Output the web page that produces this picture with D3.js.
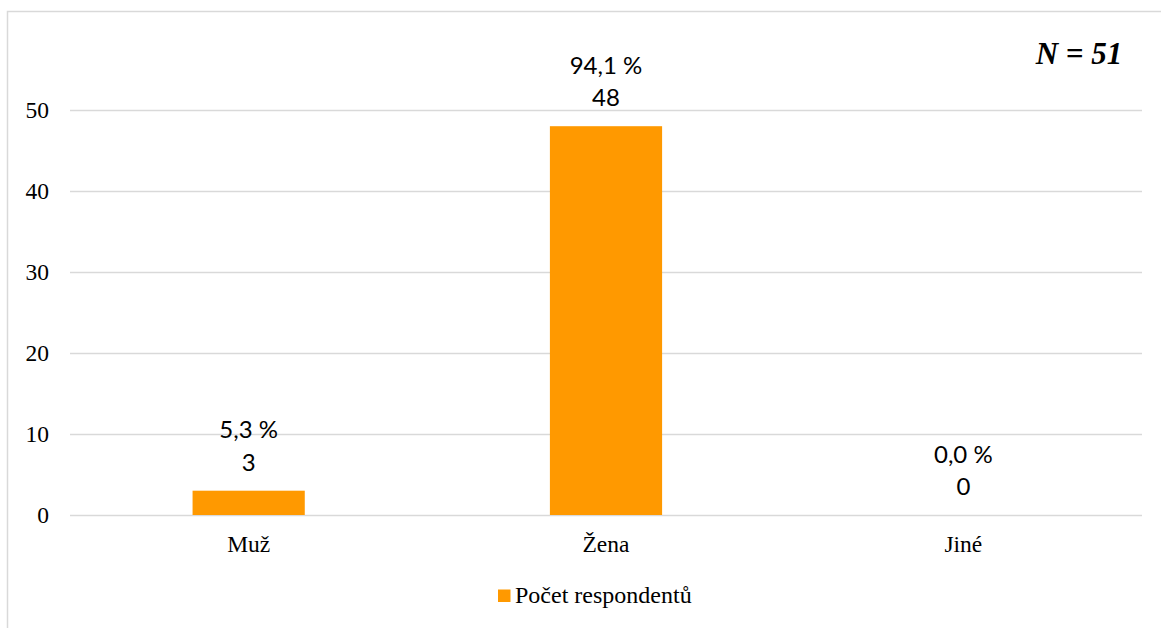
<!DOCTYPE html>
<html>
<head>
<meta charset="utf-8">
<script src="https://cdn.jsdelivr.net/npm/d3@7"></script>
<style>
  html, body { margin: 0; padding: 0; background: #fff; }
  svg { display: block; }
</style>
</head>
<body>
<svg id="chart" width="1161" height="628"></svg>
<script>
// Respondents by gender
const categories = ["Muž", "Žena", "Jiné"];
const counts = [3, 48, 0];
const percentLabels = ["5,3 %", "94,1 %", "0,0 %"];
const yTicks = [0, 10, 20, 30, 40, 50];
const seriesName = "Počet respondentů";
const sampleLabel = "N = 51";

const svg = d3.select("#chart");
const W = 1161, H = 628;
const barColor = "#ff9900";
const gridColor = "#d9d9d9";
const serif = "'Liberation Serif', 'Times New Roman', serif";
const sans = "Lato, 'Open Sans', sans-serif";

// Outer chart frame (extends past the right/bottom edge)
svg.append("rect")
  .attr("x", 7.5).attr("y", 11.5)
  .attr("width", W + 20).attr("height", H + 20)
  .attr("fill", "#fff")
  .attr("stroke", gridColor).attr("stroke-width", 1.5);

const plotLeft = 70, plotRight = 1142;

const x = d3.scaleBand()
  .domain(categories)
  .range([plotLeft, plotRight])
  .paddingInner(0.686)
  .paddingOuter(0.343);

const y = d3.scaleLinear()
  .domain([0, 50])
  .range([515, 110]);

// Horizontal gridlines and left tick labels
const yAxis = d3.axisLeft(y)
  .tickValues(yTicks)
  .tickSize(-(plotRight - plotLeft))
  .tickPadding(21)
  .tickFormat(d3.format("d"));

const gy = svg.append("g")
  .attr("transform", `translate(${plotLeft},0)`)
  .call(yAxis);
gy.select(".domain").remove();
gy.selectAll(".tick line").attr("stroke", gridColor).attr("stroke-width", 1.6);
gy.selectAll(".tick text")
  .attr("fill", "#000")
  .style("font-family", serif)
  .style("font-size", "23.5px");

// Bars
svg.append("g").selectAll("rect")
  .data(categories)
  .join("rect")
  .attr("x", d => x(d))
  .attr("y", (d, i) => y(counts[i]))
  .attr("width", x.bandwidth())
  .attr("height", (d, i) => y(0) - y(counts[i]))
  .attr("fill", barColor);

// Value labels: percentage above the count
const labels = svg.append("g").selectAll("g")
  .data(categories)
  .join("g")
  .attr("transform", (d, i) => `translate(${x(d) + x.bandwidth() / 2},${y(counts[i]) - 20})`);
labels.append("text")
  .attr("text-anchor", "middle")
  .attr("y", -32.5)
  .style("font-family", sans)
  .style("font-size", "24px")
  .attr("fill", "#000")
  .text((d, i) => percentLabels[i]);
labels.append("text")
  .attr("text-anchor", "middle")
  .attr("y", 0)
  .style("font-family", sans)
  .style("font-size", "24px")
  .attr("fill", "#000")
  .text((d, i) => counts[i]);

// Category axis labels
const xAxis = d3.axisBottom(x).tickSize(0).tickPadding(20);
const gx = svg.append("g")
  .attr("transform", `translate(0,${y(0)})`)
  .call(xAxis);
gx.select(".domain").remove();
gx.selectAll(".tick text")
  .attr("fill", "#000")
  .style("font-family", serif)
  .style("font-size", "23.5px");

// Legend
const legend = svg.append("g").attr("transform", "translate(498,589.5)");
legend.append("rect")
  .attr("width", 12.5).attr("height", 12.5)
  .attr("fill", barColor);
legend.append("text")
  .attr("x", 17).attr("y", 13.5)
  .style("font-family", serif)
  .style("font-size", "24px")
  .attr("fill", "#000")
  .text(seriesName);

// Sample size annotation
svg.append("text")
  .attr("x", 1079).attr("y", 64)
  .attr("text-anchor", "middle")
  .style("font-family", serif)
  .style("font-size", "31px")
  .style("font-weight", "bold")
  .style("font-style", "italic")
  .attr("fill", "#000")
  .text(sampleLabel);
</script>
</body>
</html>
